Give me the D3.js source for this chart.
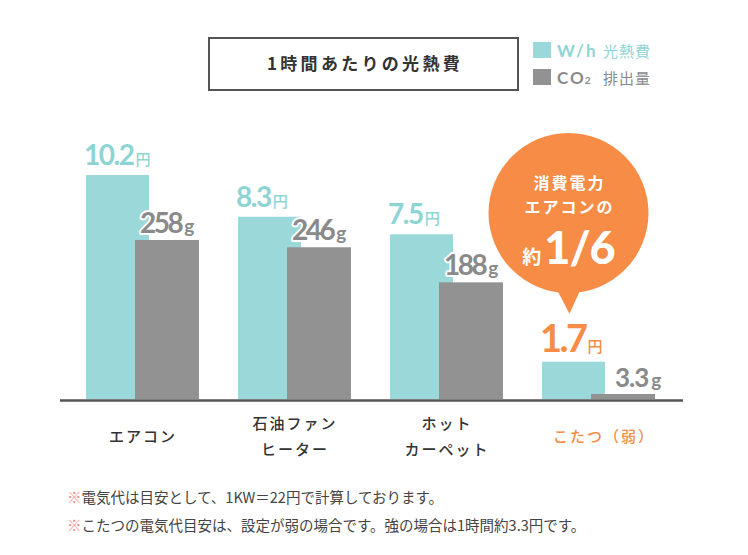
<!DOCTYPE html>
<html><head><meta charset="utf-8">
<script src="https://cdn.jsdelivr.net/npm/d3@7"></script>
<style>
html,body{margin:0;padding:0;background:#fff;}
svg{display:block;}
</style></head>
<body>
<svg id="chart" width="748" height="555"></svg>
<script>
const categories = ["エアコン", "石油ファン\nヒーター", "ホット\nカーペット", "こたつ（弱）"];
const costValues = [10.2, 8.3, 7.5, 1.7];   // 円 / hour
const co2Values = [258, 246, 188, 3.3];     // g
const highlightIndex = 3;
const titleText = "1時間あたりの光熱費";
const legendItems = [{key: "W/h", label: "光熱費"}, {key: "CO", sub: "2", label: "排出量"}];
const bubbleLines = ["消費電力", "エアコンの"];
const bubbleSmall = "約", bubbleBig = "1/6";
const footnotes = ["電気代は目安として、1KW＝22円で計算しております。", "こたつの電気代目安は、設定が弱の場合です。強の場合は1時間約3.3円です。"];

const C = {teal: "#9bd8d9", tealText: "#8fd4d5", gray: "#929292", grayText: "#8a8a8a", orange: "#f68c46", axis: "#555", label: "#333"};
const JP = "'Noto Sans CJK JP','Noto Sans',sans-serif";
const NUM = "Lato,'Noto Sans',sans-serif";

const svg = d3.select("#chart");
const baseline = 399;

const x = d3.scaleBand().domain(categories).range([66, 674]).paddingInner(0).paddingOuter(0);
const yCost = d3.scaleLinear().domain([0, 10.2]).range([baseline, 175]);
const yCo2 = d3.scaleLinear().domain([0, 258]).range([baseline - 3, 240]);

const tealOff = 20, tealW = 63, grayOff = 69, grayW = 64;

// Title box
svg.append("rect").attr("x", 209).attr("y", 38).attr("width", 309).attr("height", 52)
  .attr("fill", "none").attr("stroke", C.axis).attr("stroke-width", 2);
svg.append("text").attr("x", 365).attr("y", 70).attr("text-anchor", "middle")
  .attr("font-family", JP).attr("font-weight", 700).attr("font-size", 17).attr("letter-spacing", 3.3)
  .attr("fill", "#333").text(titleText);

// Legend
const legColors = [C.teal, C.gray], legText = [C.tealText, C.grayText];
legendItems.forEach((d, i) => {
  const ly = 42 + i * 27;
  svg.append("rect").attr("x", 533).attr("y", ly).attr("width", 18).attr("height", 16).attr("fill", legColors[i]);
  const t = svg.append("text").attr("x", 557).attr("y", ly + 15).attr("fill", legText[i]);
  t.append("tspan").attr("font-family", NUM).attr("font-weight", 700).attr("font-size", 17).attr("letter-spacing", 2).text(d.key);
  if (d.sub) t.append("tspan").attr("font-family", NUM).attr("font-weight", 700).attr("font-size", 10).attr("dx", -1).text(d.sub);
  svg.append("text").attr("x", 603).attr("y", ly + 15).attr("fill", legText[i])
    .attr("font-family", JP).attr("font-size", 15).attr("letter-spacing", 1).text(d.label);
});

// Bars
const g = svg.append("g");
g.selectAll("rect.cost").data(costValues).join("rect").attr("class", "cost")
  .attr("x", (d, i) => x(categories[i]) + tealOff).attr("width", tealW)
  .attr("y", d => yCost(d)).attr("height", d => baseline - yCost(d)).attr("fill", C.teal);
g.selectAll("rect.co2").data(co2Values).join("rect").attr("class", "co2")
  .attr("x", (d, i) => x(categories[i]) + grayOff).attr("width", grayW)
  .attr("y", d => yCo2(d)).attr("height", d => baseline - yCo2(d)).attr("fill", C.gray);

// Axis line
svg.append("line").attr("x1", 60).attr("x2", 683).attr("y1", baseline + 1.5).attr("y2", baseline + 1.5)
  .attr("stroke", C.axis).attr("stroke-width", 2.5);

// Value labels
costValues.forEach((v, i) => {
  const hi = i === highlightIndex;
  const col = hi ? C.orange : C.tealText;
  const t = svg.append("text").attr("x", x(categories[i]) + tealOff - 2).attr("y", yCost(v) - 10)
    .attr("fill", col).attr("stroke", "#fff").attr("stroke-width", 4).attr("paint-order", "stroke").attr("stroke-linejoin", "round");
  t.append("tspan").attr("font-family", NUM).attr("font-weight", 700)
    .attr("font-size", hi ? 38 : 28).attr("letter-spacing", hi ? -2.5 : -1.5).text(v);
  t.append("tspan").attr("font-family", JP).attr("font-weight", 500).attr("font-size", 15).attr("dx", 2).text("円");
});
co2Values.forEach((v, i) => {
  const hi = i === highlightIndex;
  const t = svg.append("text").attr("x", x(categories[i]) + grayOff + (hi ? 24 : 5)).attr("y", yCo2(v) - 7)
    .attr("fill", C.grayText).attr("stroke", "#fff").attr("stroke-width", 4).attr("paint-order", "stroke").attr("stroke-linejoin", "round");
  t.append("tspan").attr("font-family", NUM).attr("font-weight", 700)
    .attr("font-size", hi ? 26 : 28).attr("letter-spacing", hi ? -1 : -2.5).text(v);
  t.append("tspan").attr("font-family", NUM).attr("font-weight", 700).attr("font-size", 19).attr("dx", 3).text("g");
});

// Category labels
categories.forEach((c, i) => {
  const lines = c.split("\n");
  const cx = x(c) + x.bandwidth() / 2 + (i === highlightIndex ? 6 : 1);
  const t = svg.append("text").attr("text-anchor", "middle")
    .attr("font-family", JP).attr("font-weight", 500).attr("font-size", 15).attr("letter-spacing", 2)
    .attr("fill", i === highlightIndex ? C.orange : C.label);
  const y0 = 442 - (lines.length - 1) * 13;
  lines.forEach((l, k) => t.append("tspan").attr("x", cx).attr("y", y0 + k * 26).text(l));
});

// Bubble
const bx = x(categories[highlightIndex]) + tealOff + tealW / 2 - 5;
const by = 213, br = 80;
const tipY = yCost(costValues[highlightIndex]) - 48;
svg.append("circle").attr("cx", bx).attr("cy", by).attr("r", br).attr("fill", C.orange);
svg.append("path").attr("d", `M${bx - 14},${by + br - 8} L${bx + 14},${by + br - 8} L${bx + 1},${tipY} Z`).attr("fill", C.orange);
bubbleLines.forEach((l, k) => {
  svg.append("text").attr("x", bx + 1).attr("y", by - 24 + k * 24).attr("text-anchor", "middle")
    .attr("font-family", JP).attr("font-weight", 700).attr("font-size", 16).attr("letter-spacing", 2)
    .attr("fill", "#fff").text(l);
});
const bt = svg.append("text").attr("x", bx).attr("y", by + 51).attr("text-anchor", "middle").attr("fill", "#fff");
bt.append("tspan").attr("font-family", JP).attr("font-weight", 700).attr("font-size", 19).text(bubbleSmall);
bt.append("tspan").attr("font-family", NUM).attr("font-weight", 900).attr("font-size", 45).attr("letter-spacing", -1).attr("dx", 3).text(bubbleBig);

// Footnotes
footnotes.forEach((f, k) => {
  const t = svg.append("text").attr("x", 67).attr("y", 503 + k * 28)
    .attr("font-family", JP).attr("font-size", 14.5).attr("fill", "#444");
  t.append("tspan").attr("fill", "#ee8d8a").text("※");
  t.append("tspan").text(f);
});
</script>
</body></html>
